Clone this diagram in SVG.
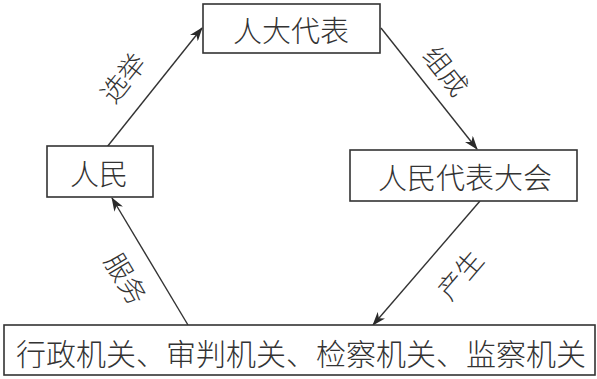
<svg xmlns="http://www.w3.org/2000/svg" width="597" height="379" viewBox="0 0 597 379">
<defs>
<marker id="ah" markerWidth="14" markerHeight="10" refX="13" refY="5" orient="auto" markerUnits="userSpaceOnUse">
<path d="M0,0 L14,5 L0,10 L4,5 Z" fill="#2a2a2a"/>
</marker>
<style>
.box{fill:#fff;stroke:#333;stroke-width:1.6}
.t{font-family:"Noto Sans CJK SC","Noto Sans CJK JP",sans-serif;font-weight:300;fill:#333;text-anchor:middle;dominant-baseline:central}
.lbl{font-family:"Noto Sans CJK SC","Noto Sans CJK JP",sans-serif;font-weight:300;fill:#333;text-anchor:middle;dominant-baseline:central;font-size:27px}
.ln{stroke:#333;stroke-width:1.4;fill:none;marker-end:url(#ah)}
</style>
</defs>
<rect width="597" height="379" fill="#fff"/>
<g id="connectors">
<line class="ln" x1="107" y1="147" x2="202" y2="28"/>
<line class="ln" x1="381" y1="28" x2="477" y2="149"/>
<line class="ln" x1="480" y1="201" x2="373" y2="325"/>
<line class="ln" x1="188" y1="325" x2="112" y2="198"/>
<text class="lbl" transform="translate(122,77) rotate(-51.4)">选举</text>
<text class="lbl" transform="translate(447,70) rotate(51.6)">组成</text>
<text class="lbl" transform="translate(127,278) rotate(59)">服务</text>
<text class="lbl" transform="translate(459,274) rotate(-49.4)">产生</text>
</g>
<g id="n1">
<rect class="box" x="203" y="4" width="177" height="49"/>
<text class="t" x="291" y="29" font-size="29">人大代表</text>
</g>
<g id="n2">
<rect class="box" x="47" y="146" width="106" height="51"/>
<text class="t" x="99" y="172" font-size="29">人民</text>
</g>
<g id="n3">
<rect class="box" x="350" y="150" width="227" height="51"/>
<text class="t" x="465" y="176" font-size="29">人民代表大会</text>
</g>
<g id="n4">
<rect class="box" x="4" y="325" width="591" height="50"/>
<text class="t" x="301" y="352" font-size="30">行政机关、审判机关、检察机关、监察机关</text>
</g>
</svg>
